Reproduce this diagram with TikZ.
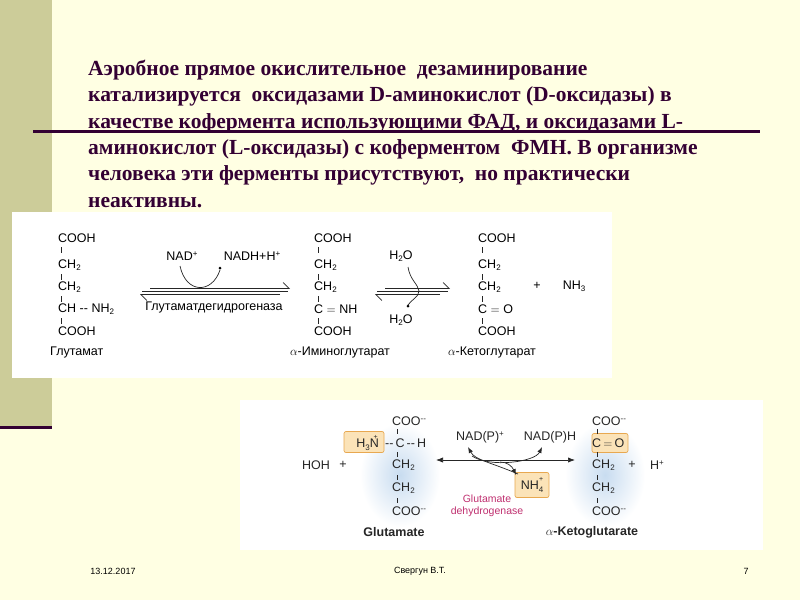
\documentclass[tikz,border=0pt]{standalone}
\usepackage{fontspec}
\setmainfont{Liberation Serif}
\newfontfamily\chem{Liberation Sans}
\usetikzlibrary{arrows.meta}
\definecolor{bg}{HTML}{FFFFE3}
\definecolor{barc}{HTML}{CCCC99}
\definecolor{dk}{HTML}{330033}
\definecolor{boxo}{HTML}{FBE3B8}
\definecolor{boxe}{HTML}{E8A850}
\definecolor{pinkt}{HTML}{C03070}
\definecolor{glow}{HTML}{C8DCF0}
\newcommand{\sbs}[1]{\raisebox{-2.5pt}{\footnotesize #1}}
\newcommand{\sps}[1]{\raisebox{4pt}{\footnotesize #1}}
\tikzset{
 ch/.style={font=\chem\fontsize{12.5}{14}\selectfont, inner sep=0pt, text=black},
 chb/.style={font=\chem\fontsize{12.5}{14}\selectfont, inner sep=0pt, text=black!85},
 bond/.style={black!85, line width=0.7pt},
 hl/.style={fill=boxo, draw=boxe, rounded corners=2pt, line width=0.7pt},
 foot/.style={font=\chem\fontsize{9}{10}\selectfont, inner sep=0pt},
}
\begin{document}
\begin{tikzpicture}[x=1pt,y=-1pt]
\fill[bg] (0,0) rectangle (800,600);
\useasboundingbox (0,0) rectangle (800,600);
\fill[barc] (0,0) rectangle (52,426);
\fill[dk] (0,426) rectangle (52,429);
\fill[dk] (33,130) rectangle (760,132.5);
\node[anchor=north west, align=left, text=dk, inner sep=0pt, font=\bfseries\fontsize{21.5}{26.3}\selectfont] (txt) at (88,60)
{Аэробное прямое окислительное \ дезаминирование\\ катализируется \ оксидазами D-аминокислот (D-оксидазы) в\\ качестве кофермента использующими ФАД, и оксидазами L-\\ аминокислот (L-оксидазы) с коферментом \ ФМН. В организме\\ человека эти ферменты присутствуют, \ но практически\\ неактивны.};
% box 1
\fill[white] (12,212) rectangle (612,378);
\node[ch,anchor=west] (g1) at (58,238) {COOH};
\node[ch,anchor=west] (g2) at (58,265) {CH\sbs{2}};
\node[ch,anchor=west] (g3) at (58,287) {CH\sbs{2}};
\node[ch,anchor=west] (g4) at (58,309) {CH -- NH\sbs{2}};
\node[ch,anchor=west] (g5) at (58,331) {COOH};
\node[ch,anchor=west] (g6) at (50,352) {Глутамат};
\foreach \y in {247,274,296,318}{\draw[bond] (61,\y) -- (61,\y+6);}
\draw[bond] (142,291.5) -- (288,291.5);
\draw[bond,-{Straight Barb[left,length=6pt]}] (150,288.5) -- (290,288.5);
\draw[bond,-{Straight Barb[left,length=6pt]}] (280,294.5) -- (140,294.5);
\node[ch] (nad) at (182,256) {NAD\sps{+}};
\node[ch] (nadh) at (252,256) {NADH+H\sps{+}};
\draw[bond] (180,266) .. controls (186,294) and (212,294) .. (220,270);
\fill (220,268) circle (1.5pt);
\node[ch] (enz1) at (214,307) {Глутаматдегидрогеназа};
\node[ch,anchor=west] (i1) at (314,238) {COOH};
\node[ch,anchor=west] (i2) at (314,265) {CH\sbs{2}};
\node[ch,anchor=west] (i3) at (314,287) {CH\sbs{2}};
\node[ch,anchor=west] (i4) at (314,309) {C $=$ NH};
\node[ch,anchor=west] (i5) at (314,331) {COOH};
\node[ch] (i6) at (340,352) {$\alpha$-Иминоглутарат};
\foreach \y in {247,274,296,318}{\draw[bond] (318,\y) -- (318,\y+6);}
\draw[bond] (377,291.5) -- (448,291.5);
\draw[bond,-{Straight Barb[left,length=6pt]}] (385,288.5) -- (450,288.5);
\draw[bond,-{Straight Barb[left,length=6pt]}] (440,294.5) -- (375,294.5);
\node[ch] (w1) at (401,256) {H\sbs{2}O};
\node[ch] (w2) at (401,320) {H\sbs{2}O};
\draw[bond] (408,267) .. controls (410,280) and (418,284) .. (419,291) .. controls (419,297) and (411,300) .. (408,305);
\fill (408,306) circle (1.5pt);
\node[ch,anchor=west] (k1) at (478,238) {COOH};
\node[ch,anchor=west] (k2) at (478,265) {CH\sbs{2}};
\node[ch,anchor=west] (k3) at (478,287) {CH\sbs{2}};
\node[ch,anchor=west] (k4) at (478,309) {C $=$ O};
\node[ch,anchor=west] (k5) at (478,331) {COOH};
\node[ch] (k6) at (492,352) {$\alpha$-Кетоглутарат};
\foreach \y in {247,274,296,318}{\draw[bond] (482,\y) -- (482,\y+6);}
\node[ch] (pl1) at (537,286) {+};
\node[ch] (nh3) at (574,286) {NH\sbs{3}};
% box 2
\fill[white] (240,400) rectangle (763,550);
\shade[inner color=glow, outer color=white] (400,475) ellipse (40 and 52);
\shade[inner color=glow, outer color=white] (605,475) ellipse (40 and 52);
\node[hl, minimum width=40pt, minimum height=21pt] (hb) at (364,442) {};
\node[hl, minimum width=36pt, minimum height=19pt] (ob) at (610,443) {};
\node[hl, minimum width=34pt, minimum height=25pt] (nb) at (532,485) {};
\node[chb] (hoh) at (316,465) {HOH};
\node[chb] (p2) at (343,465) {+};
\node[chb,anchor=west] (c1) at (392,421) {COO\sps{--}};
\node[chb,anchor=east] (h3n) at (379,443) {H\sbs{3}N\llap{\raisebox{8pt}{\scriptsize +\kern1pt}}};
\node[chb,anchor=west] (c2) at (385,443) {--\,C\,--\,H};
\node[chb,anchor=west] (c3) at (392,465) {CH\sbs{2}};
\node[chb,anchor=west] (c4) at (392,488) {CH\sbs{2}};
\node[chb,anchor=west] (c5) at (392,511) {COO\sps{--}};
\node[chb,font=\chem\bfseries\fontsize{12.5}{14}\selectfont] (c6) at (394,532) {Glutamate};
\foreach \y in {429,452,475,498}{\draw[bond] (397,\y) -- (397,\y+5);}
\draw[bond,{Latex[length=7pt]}-{Latex[length=7pt]}] (436,460) -- (575,460);
\node[chb] (np) at (480,437) {NAD(P)\sps{+}};
\node[chb] (nph) at (550,437) {NAD(P)H};
\draw[bond,-{Latex[length=6pt]}] (518,474) .. controls (490,462) and (475,460) .. (468,447);
\draw[bond,-{Latex[length=6pt]}] (472,456) .. controls (490,468) and (535,462) .. (542,447);
\draw[bond,-{Latex[length=6pt]}] (500,462) .. controls (507,462) and (512,466) .. (516,475);
\node[chb] (nh4) at (532,485) {NH\sbs{4}\llap{\raisebox{8pt}{\scriptsize +}}};
\node[chb,text=pinkt,align=center,font=\chem\fontsize{10.5}{12}\selectfont] (enz2) at (487,506) {Glutamate\\dehydrogenase};
\node[chb,anchor=west] (d1) at (592,421) {COO\sps{--}};
\node[chb,anchor=west] (d2) at (592,443) {C\,$=$\,O};
\node[chb,anchor=west] (d3) at (592,465) {CH\sbs{2}};
\node[chb,anchor=west] (d4) at (592,488) {CH\sbs{2}};
\node[chb,anchor=west] (d5) at (592,511) {COO\sps{--}};
\node[chb,font=\chem\bfseries\fontsize{12.5}{14}\selectfont] (d6) at (592,532) {$\alpha$-Ketoglutarate};
\foreach \y in {429,452,475,498}{\draw[bond] (597,\y) -- (597,\y+5);}
\node[chb] (p3) at (632,465) {+};
\node[chb] (hp) at (657,465) {H\sps{+}};
% footer
\node[foot] (f1) at (113,571) {13.12.2017};
\node[foot] (f2) at (420,571) {Свергун В.Т.};
\node[foot] (f3) at (746,571) {7};
\end{tikzpicture}
\end{document}
